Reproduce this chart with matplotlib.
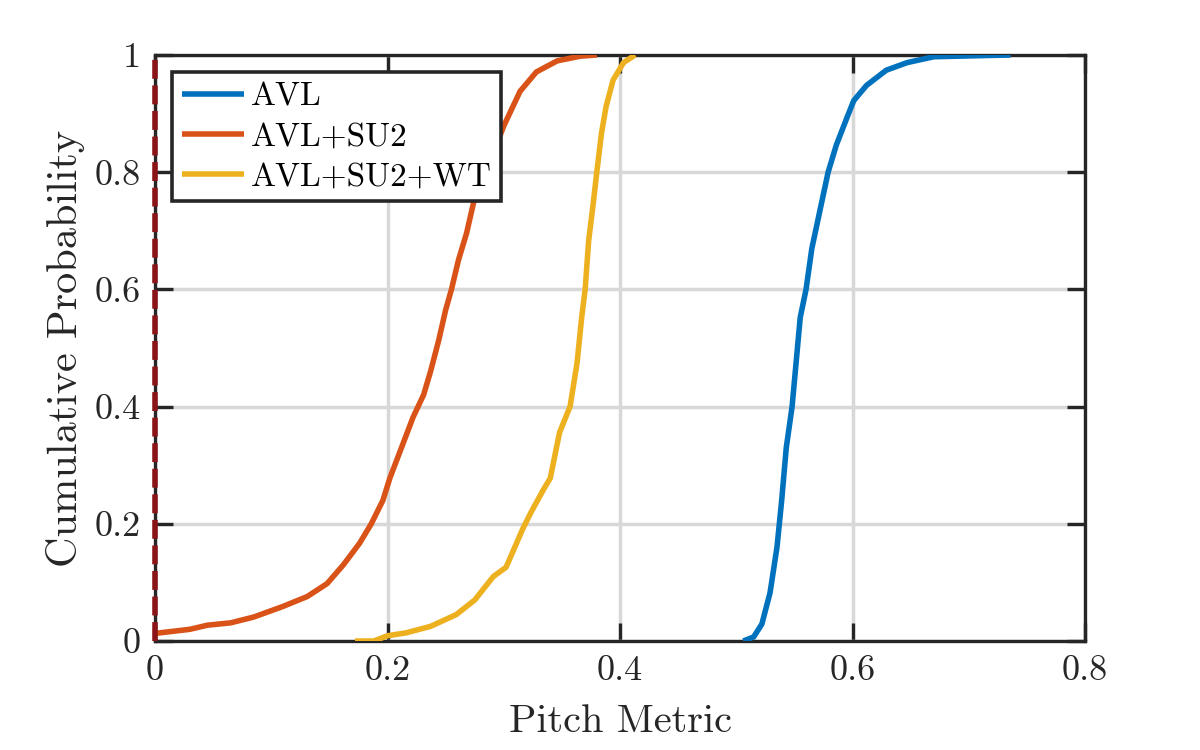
import numpy as np
import matplotlib.pyplot as plt

plt.rcParams['font.family'] = ['cmr10', 'DejaVu Serif']
plt.rcParams['mathtext.fontset'] = 'cm'
plt.rcParams['axes.formatter.use_mathtext'] = True

avl_x = [0.506, 0.515, 0.522, 0.529, 0.535, 0.539, 0.543, 0.548, 0.552, 0.555,
         0.560, 0.565, 0.572, 0.579, 0.586, 0.595, 0.601, 0.612, 0.629, 0.647,
         0.670, 0.736]
avl_y = [0.0, 0.007, 0.029, 0.082, 0.16, 0.239, 0.33, 0.40, 0.487, 0.552,
         0.60, 0.67, 0.735, 0.80, 0.846, 0.892, 0.922, 0.948, 0.974, 0.987,
         0.997, 1.0]

su2_x = [0.0, 0.030, 0.045, 0.065, 0.085, 0.110, 0.131, 0.148, 0.162, 0.176,
         0.186, 0.196, 0.202, 0.212, 0.222, 0.231, 0.237, 0.244, 0.250, 0.255,
         0.261, 0.268, 0.274, 0.282, 0.291, 0.300, 0.314, 0.328, 0.346, 0.366,
         0.380]
su2_y = [0.013, 0.02, 0.027, 0.031, 0.041, 0.059, 0.076, 0.098, 0.13, 0.167,
         0.20, 0.24, 0.278, 0.33, 0.382, 0.42, 0.46, 0.513, 0.565, 0.60,
         0.65, 0.696, 0.748, 0.79, 0.833, 0.879, 0.938, 0.971, 0.99, 0.998,
         1.0]

wt_x = [0.172, 0.188, 0.200, 0.216, 0.237, 0.259, 0.275, 0.291, 0.302, 0.316,
        0.323, 0.334, 0.340, 0.348, 0.357, 0.363, 0.367, 0.370, 0.373, 0.377,
        0.380, 0.384, 0.388, 0.394, 0.403, 0.413]
wt_y = [0.0, 0.0, 0.009, 0.014, 0.025, 0.045, 0.07, 0.11, 0.126, 0.19,
        0.218, 0.258, 0.278, 0.356, 0.40, 0.474, 0.552, 0.60, 0.683, 0.748,
        0.80, 0.866, 0.912, 0.957, 0.987, 1.0]

labels = ["AVL", "AVL+SU2", "AVL+SU2+WT"]
colors = ["#0072BD", "#D95319", "#EDB120"]
dark = "#262626"

fig = plt.figure(figsize=(12, 7.5), dpi=100)
ax = fig.add_axes([0.1292, 0.1453, 0.7750, 0.7814])

for xs, ys, lab, c in zip([avl_x, su2_x, wt_x], [avl_y, su2_y, wt_y], labels, colors):
    ax.plot(xs, ys, color=c, lw=4.0, label=lab, zorder=3,
            solid_joinstyle="round", solid_capstyle="butt")

# reference line at zero
ax.plot([0, 0], [0, 1], color="#8B1418", lw=4.0, ls=(0, (3.4, 1.2)),
        clip_on=False, zorder=5)

ax.set_xlim(0, 0.8)
ax.set_ylim(0, 1)
ax.set_xticks([0, 0.2, 0.4, 0.6, 0.8])
ax.set_yticks([0, 0.2, 0.4, 0.6, 0.8, 1])
ax.set_xticklabels(["0", "0.2", "0.4", "0.6", "0.8"])
ax.set_yticklabels(["0", "0.2", "0.4", "0.6", "0.8", "1"])
ax.grid(True, color="#d8d8d8", lw=2.5)
ax.set_axisbelow(True)
ax.tick_params(direction="in", length=13, width=2.4, colors=dark,
               labelsize=26, top=True, right=True, pad=10)
for s in ax.spines.values():
    s.set_color(dark)
    s.set_linewidth(2.4)

ax.set_xlabel("Pitch Metric", fontsize=29, color=dark, labelpad=13)
ax.set_ylabel("Cumulative Probability", fontsize=30.5, color=dark, labelpad=7)

leg = ax.legend(loc="upper left", bbox_to_anchor=(0.0183, 0.971), borderaxespad=0,
                fontsize=24, fancybox=False, framealpha=1, edgecolor=dark,
                handlelength=1.85, handletextpad=0.2, labelspacing=0.32,
                borderpad=0.3)
leg.get_frame().set_linewidth(2.6)
for t in leg.get_texts():
    t.set_color("black")
leg.set_zorder(10)

fig.savefig("out.png", dpi=100, facecolor="white")
